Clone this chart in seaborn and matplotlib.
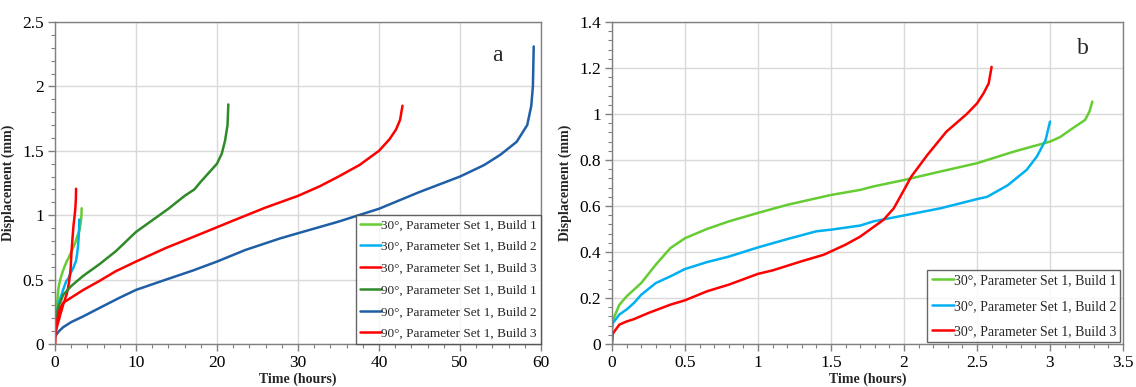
import numpy as np
import pandas as pd
import matplotlib
matplotlib.use("Agg")
import matplotlib.pyplot as plt
from matplotlib.ticker import MultipleLocator, FuncFormatter
import seaborn as sns

# ---- data ----
t30_b1 = [0.0, 0.05, 0.1, 0.2, 0.3, 0.4, 0.5, 0.65, 0.8, 1.0, 1.2, 1.5, 1.7, 1.79, 2.0, 2.25, 2.5, 2.75, 3.0, 3.07, 3.16, 3.24, 3.27, 3.29]
d30_b1 = [0.095, 0.17, 0.207, 0.265, 0.345, 0.417, 0.46, 0.50, 0.533, 0.57, 0.605, 0.648, 0.67, 0.685, 0.713, 0.75, 0.786, 0.836, 0.88, 0.90, 0.94, 0.974, 1.01, 1.054]

t30_b2 = [0.0, 0.005, 0.05, 0.1, 0.15, 0.2, 0.3, 0.4, 0.5, 0.65, 0.8, 1.0, 1.2, 1.4, 1.5, 1.7, 1.79, 2.0, 2.25, 2.5, 2.57, 2.71, 2.84, 2.91, 2.97, 3.0]
d30_b2 = [0.06, 0.09, 0.128, 0.15, 0.178, 0.214, 0.265, 0.294, 0.326, 0.356, 0.38, 0.42, 0.456, 0.49, 0.497, 0.515, 0.533, 0.559, 0.59, 0.63, 0.64, 0.69, 0.757, 0.815, 0.887, 0.967]

t30_b3 = [0.0, 0.005, 0.05, 0.1, 0.15, 0.25, 0.4, 0.5, 0.65, 0.8, 1.0, 1.1, 1.3, 1.45, 1.6, 1.7, 1.86, 1.93, 2.0, 2.05, 2.16, 2.29, 2.43, 2.5, 2.545, 2.58, 2.6]
d30_b3 = [0.0, 0.045, 0.084, 0.098, 0.108, 0.135, 0.171, 0.19, 0.229, 0.258, 0.305, 0.32, 0.36, 0.388, 0.432, 0.467, 0.54, 0.59, 0.67, 0.728, 0.822, 0.923, 1.0, 1.046, 1.09, 1.133, 1.205]

t90_b1 = [0.0, 0.5, 1.0, 2.0, 3.5, 5.5, 7.5, 10.0, 12.0, 14.0, 16.0, 17.2, 18.0, 19.0, 20.0, 20.6, 21.0, 21.3, 21.4]
d90_b1 = [0.2, 0.30, 0.38, 0.45, 0.53, 0.62, 0.72, 0.87, 0.96, 1.05, 1.15, 1.20, 1.26, 1.33, 1.40, 1.48, 1.58, 1.70, 1.86]

t90_b2 = [0.0, 0.5, 1.0, 2.0, 3.5, 5.5, 8.0, 10.0, 13.7, 17.0, 20.0, 23.5, 27.8, 30.0, 35.0, 40.0, 45.0, 50.0, 53.0, 55.0, 57.0, 58.3, 58.8, 59.0, 59.1]
d90_b2 = [0.06, 0.10, 0.13, 0.17, 0.215, 0.28, 0.36, 0.42, 0.50, 0.57, 0.64, 0.73, 0.82, 0.86, 0.95, 1.05, 1.18, 1.30, 1.39, 1.47, 1.57, 1.70, 1.85, 2.00, 2.31]

t90_b3 = [0.0, 0.1, 0.3, 0.6, 1.0, 3.5, 5.5, 7.5, 10.0, 13.7, 17.8, 21.8, 25.9, 30.0, 32.7, 35.0, 37.6, 40.0, 41.3, 42.1, 42.6, 42.9]
d90_b3 = [0.0, 0.12, 0.20, 0.27, 0.32, 0.42, 0.49, 0.565, 0.64, 0.746, 0.85, 0.953, 1.057, 1.15, 1.225, 1.30, 1.39, 1.50, 1.59, 1.665, 1.74, 1.85]

labels_a = ["30°, Parameter Set 1, Build 1", "30°, Parameter Set 1, Build 2", "30°, Parameter Set 1, Build 3",
            "90°, Parameter Set 1, Build 1", "90°, Parameter Set 1, Build 2", "90°, Parameter Set 1, Build 3"]
colors_a = ["#66CC33", "#00B0F0", "#FF0000", "#2F8A2A", "#1F5FA6", "#FF0000"]
series_a = [(t30_b1, d30_b1), (t30_b2, d30_b2), (t30_b3, d30_b3),
            (t90_b1, d90_b1), (t90_b2, d90_b2), (t90_b3, d90_b3)]
series_b = series_a[:3]
labels_b = labels_a[:3]
colors_b = colors_a[:3]

sns.set_theme(style="white")
plt.rcParams['font.family'] = ['Liberation Serif', 'DejaVu Serif']

fig = plt.figure(figsize=(11.36, 3.87), dpi=100)
axA = fig.add_axes([55/1136, 1-344/387, 486/1136, 322/387])
axB = fig.add_axes([612/1136, 1-344/387, 511/1136, 322/387])


def draw(ax, series, labels, colors):
    for (t, d), lab, c in zip(series, labels, colors):
        df = pd.DataFrame({"Time": t, "Disp": d})
        sns.lineplot(data=df, x="Time", y="Disp", ax=ax, color=c, lw=1.8,
                     label=lab, sort=False, estimator=None)


draw(axA, series_a, labels_a, colors_a)
draw(axB, series_b, labels_b, colors_b)


def fmt(v, pos):
    return '%g' % round(v, 6)


def style(ax, xlim, ylim, xmaj, xmin, ymaj, ymin, letter, lx, ly, legfs, lspace):
    ax.set_xlim(*xlim)
    ax.set_ylim(*ylim)
    ax.xaxis.set_major_locator(MultipleLocator(xmaj))
    ax.xaxis.set_minor_locator(MultipleLocator(xmin))
    ax.yaxis.set_major_locator(MultipleLocator(ymaj))
    ax.yaxis.set_minor_locator(MultipleLocator(ymin))
    ax.xaxis.set_major_formatter(FuncFormatter(fmt))
    ax.yaxis.set_major_formatter(FuncFormatter(fmt))
    ax.grid(True, which='major', color='#D9D9D9', lw=1.0)
    ax.set_axisbelow(True)
    for s in ax.spines.values():
        s.set_color('#808080')
        s.set_linewidth(1.0)
    ax.tick_params(which='both', direction='out', colors='#808080', labelcolor='black',
                   bottom=True, left=True, labelsize=12.5)
    ax.tick_params(which='major', length=5, width=1, pad=3)
    ax.tick_params(which='minor', length=3, width=0.8)
    ax.set_xlabel("Time (hours)", fontsize=10, fontweight='bold', labelpad=1)
    ax.set_ylabel("Displacement (mm)", fontsize=10, fontweight='bold', labelpad=5)
    ax.text(lx, ly, letter, transform=ax.transAxes, fontsize=17, ha='center', va='center')
    leg = ax.legend(loc='lower right', fontsize=legfs, frameon=True, fancybox=False,
                    handlelength=1.6, handletextpad=0.0, borderaxespad=0.0,
                    labelspacing=lspace, borderpad=0.3)
    leg.get_frame().set_edgecolor('#404040')
    leg.get_frame().set_linewidth(1.0)
    return leg


style(axA, (0, 60), (0, 2.5), 10, 2, 0.5, 0.1, 'a', 0.91, 0.897, 9.5, 0.72)
legB = style(axB, (0, 3.5), (0, 1.4), 0.5, 0.1, 0.2, 0.04, 'b', 0.922, 0.919, 10, 0.9)
legB.set_bbox_to_anchor((0.995, 0.005), transform=axB.transAxes)

fig.savefig("out.png", dpi=100)
